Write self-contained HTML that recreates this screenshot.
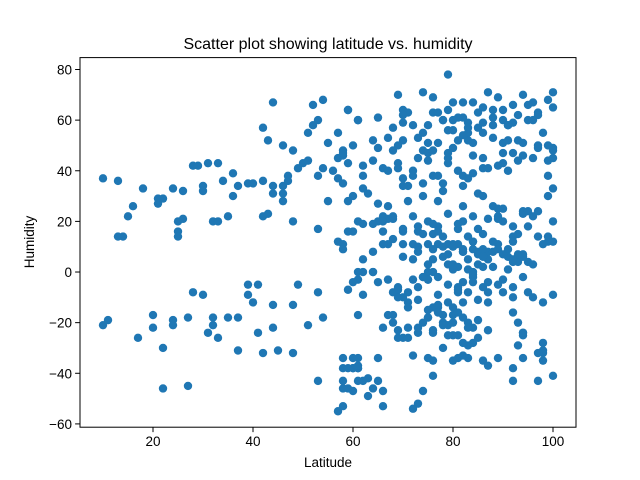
<!DOCTYPE html>
<html><head><meta charset="utf-8"><style>body{margin:0;background:#fff}svg{display:block;font-family:"Liberation Sans","DejaVu Sans",sans-serif}</style></head>
<body>
<svg id="chart" width="640" height="480">
<rect width="640" height="480" fill="#fff"/>
<text x="328" y="49" text-anchor="middle" font-size="16">Scatter plot showing latitude vs. humidity</text>
<g id="marks"></g>
<g id="axes"></g>
<rect x="80" y="57.6" width="496" height="369.6" fill="none" stroke="#000" stroke-width="1"/>
<text x="328" y="467" text-anchor="middle" font-size="13.5">Latitude</text>
<text transform="translate(34,242) rotate(-90)" text-anchor="middle" font-size="13.5">Humidity</text>
</svg>
<script>
const xTicks=[20,40,60,80,100];
const yTicks=[-60,-40,-20,0,20,40,60,80];
const latitudes=[10,13,10,11,13,14,15,16,18,17,20,20,21,21,22,22,22,24,24,24,25,25,25,26,26,27,27,28,28,29,30,30,30,31,31,32,32,32,33,33,33,34,35,35,36,36,37,37,37,39,39,39,40,40,41,41,42,42,42,42,43,43,44,44,44,44,44,45,46,46,46,46,47,47,48,48,48,48,49,49,50,51,51,51,52,52,53,53,53,53,53,54,54,54,55,55,56,57,57,57,58,58,58,58,58,59,59,60,60,60,61,61,61,61,61,
79,69,74,76,80,82,84,87,89,94,100,59,61,65,70,71,70,76,79,80,82,86,88,92,96,99,100,97,95,92,90,88,86,83,83,79,81,78,75,74,73,75,77,74,75,73,75,79,79,80,83,84,84,86,86,90,91,93,94,90,92,90,93,91,89,97,100,99,100,57,58,59,64,67,70,65,68,69,62,64,66,67,69,69,72,72,70,71,70,57,62,60,63,62,74,76,77,78,78,74,71,82,82,83,85,86,90,77,65,67,68,66,67,65,68,70,66,64,60,58,62,73,73,76,77,79,70,72,77,80,82,82,84,81,86,88,89,90,89,94,96,93,92,94,99,100,92,84,85,
62,64,64,67,62,61,65,69,71,70,69,71,68,69,64,72,74,75,75,76,77,79,80,81,83,81,83,84,87,86,87,85,80,78,78,79,80,80,79,81,77,76,77,75,82,83,84,85,83,84,82,81,82,84,87,90,90,92,92,93,94,94,94,94,93,94,98,98,92,97,98,100,97,89,86,87,92,83,81,80,82,78,76,74,73,72,72,76,75,76,69,69,70,71,71,73,73,75,67,68,68,65,61,60,58,59,61,64,66,65,58,59,61,63,63,66,67,66,58,
70,73,72,73,75,76,78,79,81,82,84,85,87,88,89,91,92,94,95,96,98,99,100,100,58,59,60,61,62,59,60,62,76,73,74,75,77,78,79,80,81,82,83,84,85,86,87,88,89,91,92,93,95,96,97,98,66,68,70,72,
77,78,80,81,83,85,86,88,90,91,93,95,96,97,98,99,100,82,85,88,91,94,97,99,76,79,81,84,87,89,92,95,75,77,79,81,83,85,87,89,91,93,95,97,99,66,68,70,72,74,76,78,80,82,84,86,88,90,92,94,96,98,100,71,73,75,77,79,81,83,85,87,74,76,78,80,82,84,86,75,77,79,81];
const humidities=[37,36,-21,-19,14,14,22,26,33,-26,-17,-22,29,27,29,-30,-46,33,-19,-21,16,14,20,21,32,-18,-45,42,-8,42,32,34,-9,43,-24,-18,-21,20,20,-26,43,36,22,-18,30,39,-31,-18,34,35,-5,-9,35,-12,-24,-5,36,57,-32,22,23,52,-22,-13,34,31,67,-31,50,34,28,31,38,36,-32,48,20,-13,41,-5,43,44,-21,55,66,58,-8,-43,60,38,17,68,41,-18,28,51,40,12,-55,45,-34,-46,46,48,-53,16,64,-47,50,-38,-34,20,-17,-3,60,
78,70,71,69,67,67,67,71,69,70,71,64,60,61,64,63,59,63,64,60,61,65,64,66,67,68,65,63,60,59,60,58,55,59,55,56,52,60,58,55,53,51,51,48,47,45,44,47,43,49,52,51,46,45,41,51,52,52,51,47,47,43,44,40,42,49,49,38,33,55,47,43,52,53,52,49,48,50,42,44,41,40,43,41,40,38,37,34,34,37,38,30,31,33,35,38,38,35,32,30,28,34,38,37,31,30,25,28,27,26,22,22,21,20,21,16,16,19,16,11,19,16,18,15,18,11,11,11,11,11,26,20,22,17,15,26,22,20,25,24,22,15,12,23,12,12,14,12,
8,5,8,0,-3,0,0,-4,-6,-12,-10,-10,-8,-8,-7,0,-3,-2,0,-3,0,-2,3,3,-6,-8,2,1,-2,-8,-6,-12,-11,-14,-17,-20,-21,-17,-20,-25,-25,-14,-14,-16,-18,-18,-20,-22,-26,-29,-28,-28,-8,-12,0,-4,-3,-8,-10,-16,-20,-24,-25,-2,-24,-29,-34,-32,-31,-38,-32,-35,-41,-43,-34,-35,-37,-43,-34,-34,-35,-33,-30,-41,-47,-52,-54,-33,-35,-34,-23,-26,-23,-26,-26,-22,-24,-22,-18,-17,-20,-17,-34,-38,-38,-38,-38,-38,-46,-47,-43,-43,-46,-43,-42,-49,-53,
11,11,9,6,8,5,10,11,9,10,7,11,9,12,7,8,8,11,9,4,7,4,3,11,30,45,20,35,28,-34,-37,-43,-7,-4,-9,5,-6,-2,3,-9,6,-5,1,-7,8,5,-4,3,9,5,2,-5,1,-6,4,-8,45,14,-28,-22,
57,62,58,63,60,56,61,57,63,59,61,64,58,62,66,60,62,55,50,48,54,57,53,58,46,50,44,48,45,40,39,41,21,18,24,20,16,23,19,14,17,21,9,6,7,18,24,14,20,13,17,22,15,19,14,10,8,9,6,12,7,5,6,-10,-12,-9,-14,-11,-15,-13,-12,-16,-22,-19,-23,-20,-24,-21,-25,-4,-1,2,-3];
const svg=document.getElementById('chart');
const NS='http://www.w3.org/2000/svg';
const X0=80,X1=576,Y0=57.6,Y1=427.2,XMIN=5.4,XMAX=104.6,YMIN=-61.3,YMAX=84.7;
function xs(v){return X0+(v-XMIN)/(XMAX-XMIN)*(X1-X0);}
function ys(v){return Y1-(v-YMIN)/(YMAX-YMIN)*(Y1-Y0);}
const marks=document.getElementById('marks');
const n=Math.min(latitudes.length,humidities.length);
for(let i=0;i<n;i++){
  const c=document.createElementNS(NS,'circle');
  c.setAttribute('cx',xs(latitudes[i]));c.setAttribute('cy',ys(humidities[i]));
  c.setAttribute('r',4.2);c.setAttribute('fill','#1f77b4');
  
  
  marks.appendChild(c);
}
const axes=document.getElementById('axes');
xTicks.forEach(t=>{
  const x=xs(t);
  const l=document.createElementNS(NS,'line');
  l.setAttribute('x1',x);l.setAttribute('x2',x);l.setAttribute('y1',Y1);l.setAttribute('y2',Y1+4.9);l.setAttribute('stroke','#000');
  
  
  axes.appendChild(l);
  const tx=document.createElementNS(NS,'text');
  tx.setAttribute('x',x);tx.setAttribute('y',Y1+19);tx.setAttribute('text-anchor','middle');tx.setAttribute('font-size','13.5');
  tx.textContent=t;
  
  
  axes.appendChild(tx);
});
yTicks.forEach(t=>{
  const y=ys(t);
  const l=document.createElementNS(NS,'line');
  l.setAttribute('x1',X0-4.9);l.setAttribute('x2',X0);l.setAttribute('y1',y);l.setAttribute('y2',y);l.setAttribute('stroke','#000');
  
  
  axes.appendChild(l);
  const tx=document.createElementNS(NS,'text');
  tx.setAttribute('x',X0-8);tx.setAttribute('y',y+5);tx.setAttribute('text-anchor','end');tx.setAttribute('font-size','13.5');
  tx.textContent=t<0?'\u2212'+(-t):t;
  
  
  axes.appendChild(tx);
});
</script>
</body></html>
